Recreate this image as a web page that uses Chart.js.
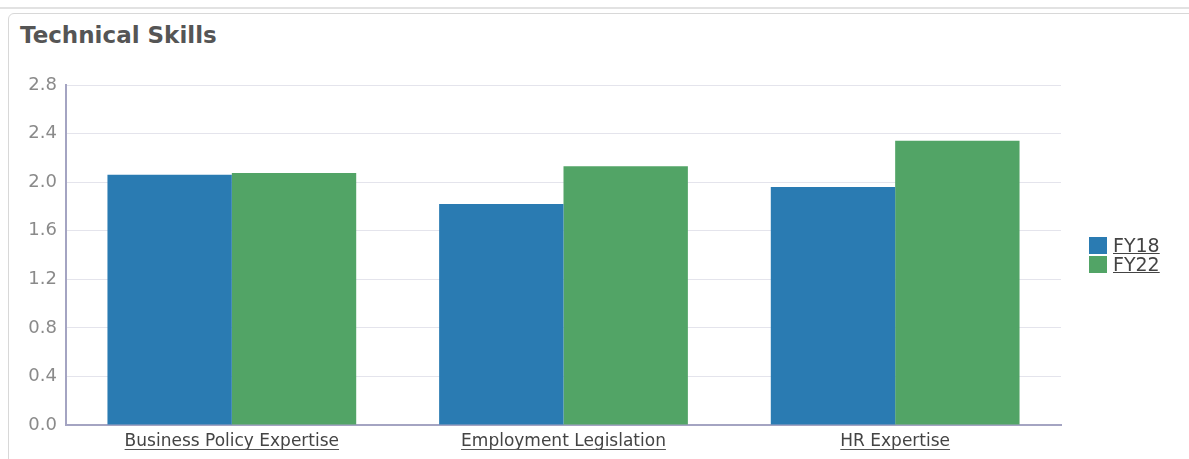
<!DOCTYPE html>
<html>
<head>
<meta charset="utf-8">
<script src="https://cdn.jsdelivr.net/npm/chart.js@4"></script>
<style>
  html, body { margin: 0; padding: 0; background: #fff; }
  body { width: 1189px; height: 459px; position: relative; overflow: hidden; font-family: 'DejaVu Sans', sans-serif; }
  .topbar { position: absolute; left: 0; top: 0; width: 1189px; height: 7px; border-bottom: 2px solid #e2e2e2; }
  .card { position: absolute; left: 8px; top: 13px; width: 1200px; height: 460px; border: 1px solid #d8d8d8; border-radius: 6px; }
  .title { position: absolute; left: 20px; top: 22px; font: bold 23px 'DejaVu Sans', sans-serif; color: #555; }
  #wrap { position: absolute; left: 0; top: 0; width: 1189px; height: 459px; }
  .legend { position: absolute; left: 1089px; top: 236px; font: 19px 'DejaVu Sans', sans-serif; color: #444; }
  .legend div { height: 19px; line-height: 19px; display: flex; align-items: center; }
  .legend span.box { display: inline-block; width: 18px; height: 17px; margin-right: 6px; }
  .legend span.lbl { text-decoration: underline; }
</style>
</head>
<body>
<div class="topbar"></div>
<div class="card"></div>
<div class="title">Technical Skills</div>
<div id="wrap"><canvas id="chart"></canvas></div>
<div class="legend" id="legend"></div>
<script>
const categories = ['Business Policy Expertise', 'Employment Legislation', 'HR Expertise'];
const seriesNames = ['FY18', 'FY22'];
const fy18 = [2.06, 1.82, 1.96];
const fy22 = [2.075, 2.13, 2.34];
const yTicks = [0.0, 0.4, 0.8, 1.2, 1.6, 2.0, 2.4, 2.8];
const colors = ['#2a7bb2', '#52a466'];

Chart.defaults.font.family = "'DejaVu Sans', sans-serif";

const X_FONT = 17;
const X_PAD = 6;

const underlineTicks = {
  id: 'underlineTicks',
  afterDraw(chart) {
    const x = chart.scales.x;
    const ctx = chart.ctx;
    ctx.save();
    ctx.font = X_FONT + "px 'DejaVu Sans', sans-serif";
    ctx.strokeStyle = '#555';
    ctx.lineWidth = 1;
    chart.data.labels.forEach((lbl, i) => {
      const cx = x.getPixelForTick(i);
      const w = ctx.measureText(lbl).width;
      const yy = Math.round(x.top + X_PAD + X_FONT + 1) + 0.5;
      ctx.beginPath();
      ctx.moveTo(cx - w / 2, yy);
      ctx.lineTo(cx + w / 2, yy);
      ctx.stroke();
    });
    ctx.restore();
  },
};

const chart = new Chart(document.getElementById('chart'), {
  type: 'bar',
  data: {
    labels: categories,
    datasets: [
      { label: seriesNames[0], data: fy18, backgroundColor: colors[0] },
      { label: seriesNames[1], data: fy22, backgroundColor: colors[1] },
    ],
  },
  options: {
    responsive: true,
    maintainAspectRatio: false,
    animation: false,
    layout: { padding: { top: 85, right: 128, bottom: 0, left: 0 } },
    datasets: { bar: { categoryPercentage: 0.75, barPercentage: 1.0, borderWidth: 0 } },
    plugins: { legend: { display: false }, tooltip: { enabled: false } },
    scales: {
      y: {
        min: 0, max: 2.8,
        afterFit: (axis) => { axis.width = 66; },
        afterBuildTicks: (axis) => { axis.ticks = yTicks.map(v => ({ value: v })); },
        grid: { color: '#e4e4ec', drawTicks: false },
        border: { color: '#a4a4c2', width: 2 },
        ticks: { color: '#8a8a8a', padding: 9, font: { size: 18, family: "'DejaVu Sans', sans-serif" }, callback: (v) => Number(v).toFixed(1) },
      },
      x: {
        afterFit: (axis) => { axis.height = 34; },
        grid: { display: false, drawTicks: false },
        border: { color: '#a4a4c2', width: 2 },
        ticks: { color: '#444', padding: X_PAD, maxRotation: 0, autoSkip: false, font: { size: X_FONT, family: "'DejaVu Sans', sans-serif" } },
      },
    },
  },
  plugins: [underlineTicks],
});

const legendEl = document.getElementById('legend');
chart.data.datasets.forEach(ds => {
  const row = document.createElement('div');
  const box = document.createElement('span'); box.className = 'box'; box.style.background = ds.backgroundColor;
  const lbl = document.createElement('span'); lbl.className = 'lbl'; lbl.textContent = ds.label;
  row.appendChild(box); row.appendChild(lbl);
  legendEl.appendChild(row);
});
</script>
</body>
</html>
